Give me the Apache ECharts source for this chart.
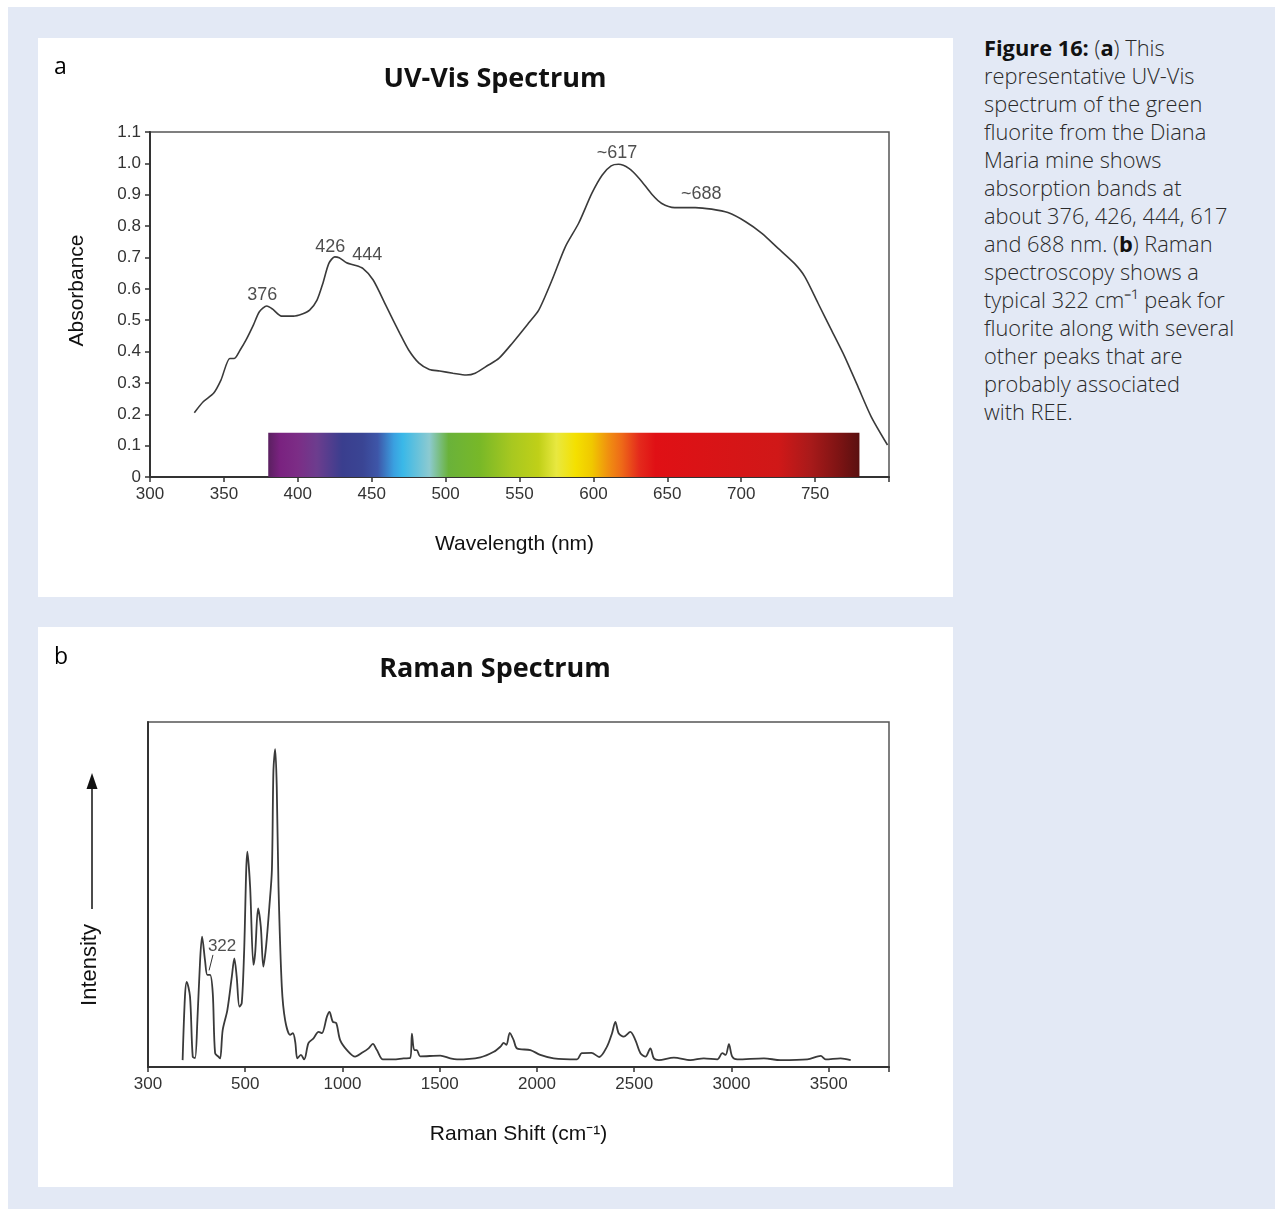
<!DOCTYPE html>
<html>
<head>
<meta charset="utf-8">
<script src="https://cdn.jsdelivr.net/npm/echarts@6.0.0/dist/echarts.min.js"></script>
<style>
  html, body { margin: 0; padding: 0; background: #fff; }
  #page { position: relative; width: 1275px; height: 1209px; overflow: hidden; }
  #bg { position: absolute; left: 8px; top: 7px; right: 0; bottom: 0; background: #e3e9f5; }
  .panel { position: absolute; left: 38px; width: 915px; background: #fff; }
  #panelA { top: 38px; height: 559px; }
  #panelB { top: 627px; height: 560px; }
  #caption {
    position: absolute; left: 984px; top: 34px; width: 290px;
    font-family: "Open Sans", sans-serif; font-weight: 300;
    font-size: 21.8px; line-height: 28px; color: #2a2a2a; white-space: nowrap;
  }
  #caption b { font-weight: 700; color: #111; }
  #chart { position: absolute; left: 0; top: 0; width: 1275px; height: 1209px; }
</style>
</head>
<body>
<div id="page">
  <div id="bg"></div>
  <div class="panel" id="panelA"></div>
  <div class="panel" id="panelB"></div>
  <div id="caption"><b>Figure 16:</b> (<b>a</b>) This<br>representative UV-Vis<br>spectrum of the green<br>fluorite from the Diana<br>Maria mine shows<br>absorption bands at<br>about 376, 426, 444, 617<br>and 688 nm. (<b>b</b>) Raman<br>spectroscopy shows a<br>typical 322 cm⁻¹ peak for<br>fluorite along with several<br>other peaks that are<br>probably associated<br>with REE.</div>
  <div id="chart"></div>
</div>
<script>
// UV-Vis spectrum (nm, absorbance)
const uvWavelength = [330, 336, 343, 348, 354, 357, 361, 365, 370, 374, 379, 383, 389, 397, 403, 408, 413, 417, 421, 425, 428, 433, 438, 444, 451, 460, 469, 475, 482, 489, 496, 505, 514, 520, 529, 536, 545, 556, 563, 572, 581, 590, 599, 606, 612, 617, 624, 631, 640, 646, 655, 669, 680, 691, 703, 714, 725, 736, 743, 752, 761, 770, 779, 788, 799];
const uvAbsorbance = [0.205, 0.24, 0.267, 0.309, 0.378, 0.378, 0.405, 0.437, 0.485, 0.527, 0.545, 0.535, 0.513, 0.513, 0.52, 0.532, 0.564, 0.618, 0.681, 0.702, 0.699, 0.683, 0.676, 0.665, 0.628, 0.543, 0.458, 0.405, 0.363, 0.343, 0.338, 0.331, 0.325, 0.331, 0.357, 0.378, 0.426, 0.49, 0.532, 0.628, 0.734, 0.809, 0.905, 0.963, 0.992, 0.997, 0.984, 0.952, 0.899, 0.873, 0.859, 0.859, 0.854, 0.843, 0.814, 0.777, 0.729, 0.681, 0.639, 0.554, 0.469, 0.384, 0.288, 0.192, 0.102];
const uvTicks = [300, 350, 400, 450, 500, 550, 600, 650, 700, 750];
const uvPeakNames = ['376', '426', '444', '~617', '~688'];
const uvPeakX = [376, 422, 447, 616, 673];
const uvPeakY = [0.58, 0.734, 0.708, 1.034, 0.902];

// visible spectrum colour bar
const barRange = [380, 780];
const barTop = 0.141;
const spectrumNm = [380, 388, 400, 413, 430, 444, 454, 465, 471, 489, 502, 523, 545, 563, 575, 588, 599, 610, 619, 631, 642, 725, 747, 765, 780];
const spectrumColors = ['#5a2060', '#7a2280', '#7c2d86', '#6c3d8e', '#3a3e8e', '#3a4594', '#3e56a8', '#3aa0e0', '#3ab8e8', '#8ccad0', '#6ab23a', '#78b828', '#a8c820', '#c0d018', '#e8e840', '#f4e000', '#f0c800', '#f09010', '#ee6a18', '#e42a1c', '#e01015', '#d01818', '#a81a1a', '#801414', '#5a1010'];

// Raman spectrum (cm-1, relative intensity)
const ramanShift = [178, 190, 199, 216, 230, 242, 254, 268, 278, 293, 305, 319, 333, 345, 362, 371, 384, 408, 431, 444, 456, 470, 482, 494, 511, 525, 542, 551, 566, 580, 593, 607, 624, 637, 645, 654, 662, 671, 688, 705, 731, 745, 757, 768, 786, 803, 825, 851, 877, 894, 920, 933, 950, 968, 988, 1023, 1065, 1100, 1134, 1156, 1177, 1208, 1262, 1314, 1348, 1357, 1369, 1382, 1400, 1503, 1554, 1589, 1709, 1778, 1812, 1829, 1843, 1860, 1880, 1897, 1966, 2017, 2086, 2206, 2230, 2280, 2320, 2360, 2386, 2403, 2420, 2446, 2480, 2506, 2532, 2558, 2583, 2601, 2626, 2704, 2789, 2858, 2927, 2953, 2970, 2987, 3004, 3030, 3167, 3252, 3390, 3459, 3484, 3561, 3613];
const ramanIntensity = [2.0, 20.4, 24.7, 20.4, 3, 2.6, 13.6, 31, 37.8, 31, 26.7, 26.7, 21.4, 4, 3, 2.5, 10.7, 16.5, 26.2, 31.5, 26.2, 17.5, 18.5, 33, 62.4, 52.3, 29.6, 33, 46, 40.7, 29.1, 34.9, 46.5, 57.1, 86.1, 92.1, 81.2, 52.3, 23.3, 13.6, 9.3, 9.8, 7.3, 2.5, 3.5, 2.2, 6.9, 8.3, 10.2, 9.8, 14.6, 16, 13.1, 12.7, 7.8, 4.9, 3, 4.1, 5.4, 6.7, 4.9, 2.2, 2.2, 2.5, 2.6, 9.7, 4.9, 4.9, 3.1, 3.3, 2.5, 2.2, 2.8, 4.4, 5.9, 7, 6.4, 9.9, 7.8, 5.4, 4.9, 3.5, 2.5, 2.2, 4.0, 4.1, 2.9, 5.9, 9.8, 13.1, 9.8, 8.8, 10.2, 7.8, 4, 3, 5.4, 2.5, 2, 2.7, 2, 2.5, 2.2, 4, 3.5, 6.6, 3, 2.2, 2.5, 2, 2.2, 3.2, 2.2, 2.5, 2];
const ramanTickValues = [0, 500, 1000, 1500, 2000, 2500, 3000, 3500];
const ramanTickLabels = ['300', '500', '1000', '1500', '2000', '2500', '3000', '3500'];
const ramanPeakName = ['322'];
const ramanPeakX = [381];
const ramanPeakY = [35];
const ramanPointer = [[334, 32.5], [314, 28]];

const zip = (xs, ys) => xs.map((x, i) => [x, ys[i]]);
const sans = 'Arial, "Liberation Sans", sans-serif';
const ink = '#333';

const chart = echarts.init(document.getElementById('chart'), null, { renderer: 'canvas' });

const barStops = spectrumNm.map((nm, i) => ({
  offset: (nm - barRange[0]) / (barRange[1] - barRange[0]),
  color: spectrumColors[i]
}));

function xAxisBase() {
  return {
    type: 'value',
    splitLine: { show: false },
    axisLine: { onZero: false, lineStyle: { color: ink, width: 2 } },
    axisTick: { length: 5, lineStyle: { color: ink, width: 1.5 } },
    axisLabel: { fontSize: 17, color: ink, margin: 9, fontFamily: sans },
    nameLocation: 'middle',
    nameGap: 57,
    nameTextStyle: { fontSize: 21, color: '#111', fontFamily: sans }
  };
}

const titleStyle = { fontFamily: '"Open Sans", sans-serif', fontWeight: 'bold', fontSize: 27, color: '#111' };
const panelTagStyle = { fontFamily: '"Open Sans", sans-serif', fontWeight: 'normal', fontSize: 23, color: '#000' };

const option = {
  animation: false,
  title: [
    { text: 'UV-Vis Spectrum', left: 490, top: 61, textAlign: 'center', textStyle: titleStyle },
    { text: 'Raman Spectrum', left: 490, top: 651, textAlign: 'center', textStyle: titleStyle },
    { text: 'a', left: 49, top: 51, textStyle: panelTagStyle },
    { text: 'b', left: 49, top: 641, textStyle: panelTagStyle }
  ],
  grid: [
    { left: 150, top: 132, width: 739, height: 345, show: true, borderColor: '#555', borderWidth: 1.5, backgroundColor: 'transparent' },
    { left: 148, top: 722, width: 741, height: 345, show: true, borderColor: '#555', borderWidth: 1.5, backgroundColor: 'transparent' }
  ],
  xAxis: [
    Object.assign(xAxisBase(), {
      gridIndex: 0, min: 300, max: 800, interval: 50,
      name: 'Wavelength (nm)',
      nameTextStyle: { fontSize: 21, color: '#111', fontFamily: sans, padding: [0, 10, 0, 0] },
      axisLabel: Object.assign(xAxisBase().axisLabel, {
        formatter: v => (uvTicks.includes(v) ? String(v) : '')
      })
    }),
    Object.assign(xAxisBase(), {
      gridIndex: 1, min: 0, max: 3810, interval: 500,
      name: 'Raman Shift (cm\u207B\u00B9)',
      axisLabel: Object.assign(xAxisBase().axisLabel, {
        formatter: v => {
          const i = ramanTickValues.indexOf(v);
          return i >= 0 ? ramanTickLabels[i] : '';
        }
      })
    })
  ],
  yAxis: [
    {
      gridIndex: 0, type: 'value', min: 0, max: 1.1, interval: 0.1,
      splitLine: { show: false },
      axisLine: { show: true, onZero: false, lineStyle: { color: ink, width: 2 } },
      axisTick: { show: true, length: 5, lineStyle: { color: ink, width: 1.5 } },
      axisLabel: { fontSize: 17, color: ink, margin: 9, fontFamily: sans,
        formatter: v => (v === 0 ? '0' : v.toFixed(1)) },
      name: 'Absorbance', nameLocation: 'middle', nameGap: 62,
      nameTextStyle: { fontSize: 21, color: '#111', fontFamily: sans, padding: [0, 0, 0, 28] }
    },
    {
      gridIndex: 1, type: 'value', min: 0, max: 100,
      splitLine: { show: false },
      axisLine: { show: true, onZero: false, lineStyle: { color: ink, width: 2 } },
      axisTick: { show: false },
      axisLabel: { show: false }
    }
  ],
  series: [
    {
      type: 'line', xAxisIndex: 0, yAxisIndex: 0,
      data: zip(uvWavelength, uvAbsorbance),
      showSymbol: false, smooth: 0.25,
      lineStyle: { color: '#3a3a3a', width: 1.6 },
      markArea: {
        silent: true,
        itemStyle: {
          color: new echarts.graphic.LinearGradient(0, 0, 1, 0, barStops),
          opacity: 1, borderWidth: 0
        },
        data: [[{ coord: [barRange[0], 0] }, { coord: [barRange[1], barTop] }]]
      },
      z: 3
    },
    {
      type: 'scatter', xAxisIndex: 0, yAxisIndex: 0,
      data: uvPeakX.map((x, i) => [x, uvPeakY[i], uvPeakNames[i]]),
      symbolSize: 0, silent: true,
      label: { show: true, position: 'inside', formatter: p => p.data[2],
        fontSize: 18, color: '#222', fontFamily: sans }
    },
    {
      type: 'line', xAxisIndex: 1, yAxisIndex: 1,
      data: zip(ramanShift, ramanIntensity),
      showSymbol: false, smooth: 0.3,
      lineStyle: { color: '#3a3a3a', width: 1.8 }
    },
    {
      type: 'scatter', xAxisIndex: 1, yAxisIndex: 1,
      data: ramanPeakX.map((x, i) => [x, ramanPeakY[i], ramanPeakName[i]]),
      symbolSize: 0, silent: true,
      label: { show: true, position: 'inside', formatter: p => p.data[2],
        fontSize: 17, color: '#222', fontFamily: sans }
    },
    {
      type: 'line', xAxisIndex: 1, yAxisIndex: 1,
      data: ramanPointer, showSymbol: false, silent: true,
      lineStyle: { color: '#333', width: 1 }
    }
  ],
  graphic: [
    { type: 'text', x: 90, y: 965, rotation: Math.PI / 2,
      style: { text: 'Intensity', fontSize: 22, fontFamily: sans, fill: '#111', align: 'center', verticalAlign: 'middle' } },
    { type: 'line', shape: { x1: 92, y1: 909, x2: 92, y2: 784 },
      style: { stroke: '#111', lineWidth: 1.5 } },
    { type: 'polygon', shape: { points: [[92, 773], [86.5, 789], [97.5, 789]] },
      style: { fill: '#111' } }
  ]
};

chart.setOption(option);
</script>
</body>
</html>
